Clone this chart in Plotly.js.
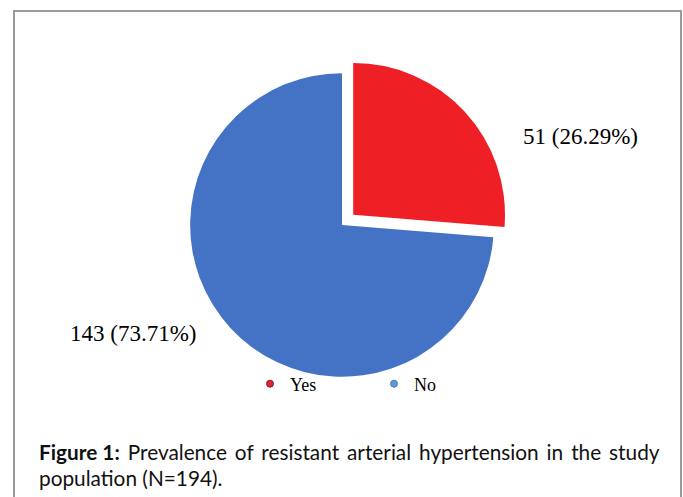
<!DOCTYPE html>
<html>
<head>
<meta charset="utf-8">
<script src="https://cdn.plot.ly/plotly-3.0.1.min.js"></script>
<style>html,body{margin:0;padding:0;background:#fff;}#chart{width:683px;height:497px;}</style>
</head>
<body>
<div id="chart"></div>
<script>
const categories = ["Yes", "No"];
const counts = [51, 143];
const percents = [26.29, 73.71];
const colors = ["#ee1f25", "#4472c4"];
const legendColors = ["#e8202a", "#5b9bd5"];
const captionBold = "Figure 1:";
const captionLine1 = " Prevalence of resistant arterial hypertension in the study";
const captionLine2 = "population (N=194).";

const labelText = counts.map((c, i) => c + " (" + percents[i].toFixed(2) + "%)");

const W = 683, H = 497;
const px = x => x / W;
const py = y => 1 - y / H;

const pie = {
  type: "pie",
  labels: categories,
  values: counts,
  sort: false,
  direction: "clockwise",
  rotation: 0,
  pull: [0.1, 0],
  marker: {colors: colors, line: {width: 0}},
  textinfo: "none",
  hoverinfo: "label+value+percent",
  showlegend: false,
  domain: {x: [px(175), px(509)], y: [py(392), py(58)]}
};

const legendTraces = categories.map((c, i) => ({
  type: "scatter",
  mode: "markers",
  x: [null], y: [null],
  name: c,
  legend: i === 0 ? "legend" : "legend2",
  marker: {symbol: "circle", size: 7, color: legendColors[i], line: {color: i === 0 ? "#7f1f3a" : "#4a7fb0", width: 1}},
  showlegend: true
}));

const labelPos = [[580, 137], [133, 333]];
const annotations = labelText.map((t, i) => ({
  text: t, xref: "paper", yref: "paper",
  x: px(labelPos[i][0]), y: py(labelPos[i][1]),
  xanchor: "center", yanchor: "middle", showarrow: false,
  font: {family: "Liberation Serif, Times New Roman, serif", size: 23, color: "#000"}
}));
// justified first caption line: widen word gaps a little
const justified = captionLine1.replace(/ /g, " &#8201;");
annotations.push({
  text: "<b>" + captionBold + "</b>" + justified,
  xref: "paper", yref: "paper", x: px(37), y: py(451),
  xanchor: "left", yanchor: "middle", showarrow: false,
  font: {family: "Lato, Open Sans, sans-serif", size: 20.8, color: "#111"}
});
annotations.push({
  text: captionLine2,
  xref: "paper", yref: "paper", x: px(37), y: py(477),
  xanchor: "left", yanchor: "middle", showarrow: false,
  font: {family: "Lato, Open Sans, sans-serif", size: 20.8, color: "#111"}
});

const legendFont = {family: "Liberation Serif, Times New Roman, serif", size: 18, color: "#000"};
const layout = {
  width: W, height: H,
  margin: {l: 0, r: 0, t: 0, b: 0},
  paper_bgcolor: "#fff", plot_bgcolor: "rgba(0,0,0,0)",
  xaxis: {visible: false, range: [0, 1]},
  yaxis: {visible: false, range: [0, 1]},
  legend: {x: px(250), y: py(384), xanchor: "left", yanchor: "middle", orientation: "h", font: legendFont, bgcolor: "rgba(0,0,0,0)"},
  legend2: {x: px(374), y: py(384), xanchor: "left", yanchor: "middle", orientation: "h", font: legendFont, bgcolor: "rgba(0,0,0,0)"},
  shapes: [{
    type: "rect", xref: "paper", yref: "paper",
    x0: px(14), x1: px(681), y0: py(520), y1: py(11),
    line: {color: "#9a9a9a", width: 2}, fillcolor: "rgba(0,0,0,0)", layer: "below"
  }],
  annotations: annotations
};

Plotly.newPlot("chart", [pie].concat(legendTraces), layout, {displayModeBar: false, staticPlot: true});
</script>
</body>
</html>
